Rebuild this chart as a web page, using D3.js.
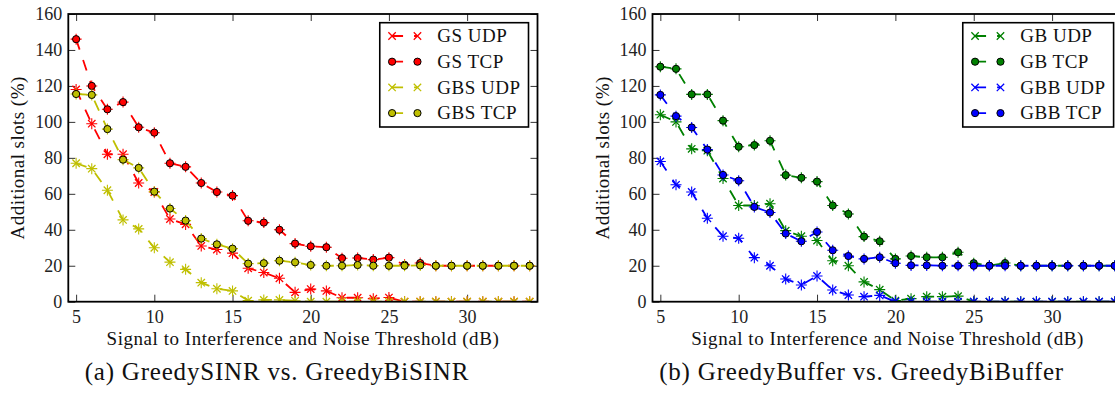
<!DOCTYPE html>
<html>
<head>
<meta charset="utf-8">
<script src="https://cdn.jsdelivr.net/npm/d3@7"></script>
<style>
  body { margin: 0; background: #fff; }
  svg text { font-family: "Liberation Serif", "Times New Roman", serif; }
</style>
</head>
<body>
<svg id="fig" width="1115" height="401"></svg>
<script>
// SINR thresholds (dB) on the x axis
const thresholds = [5, 6, 7, 8, 9, 10, 11, 12, 13, 14, 15, 16, 17, 18, 19,
                    20, 21, 22, 23, 24, 25, 26, 27, 28, 29, 30, 31, 32, 33, 34];

// (a) GreedySINR vs. GreedyBiSINR, additional slots (%)
const gsUdp  = [118, 99, 82, 82, 66, 61, 46, 43, 31, 29, 27, 18.6, 16.2, 13, 5.2,
                7, 6, 2.2, 2.2, 1.7, 2.3, 0, 0, 0, 0, 0, 0, 0, 0, 0];
const gsTcp  = [146, 120, 107, 111, 97, 94, 77, 75, 66, 61, 59, 45, 44, 40, 32.3,
                30.8, 30.3, 24.2, 24.3, 23.4, 24.5, 20.5, 21.5, 20, 20, 20, 20, 20, 20, 20];
const gbsUdp = [77, 74, 62, 45.5, 40.5, 30, 22, 18, 10.6, 7.2, 6, 0.6, 1, 1, 0.5,
                0, 0, 0, 0, 0, 0, 0, 0, 0, 0, 0, 0, 0, 0, 0];
const gbsTcp = [115.5, 115, 96, 79, 74.4, 61.2, 51.8, 45.1, 35.1, 31.9, 29.5, 21.2, 21.4, 22.8, 21.9,
                20.4, 20, 20, 20.4, 20, 20, 20, 20.2, 20, 20, 20, 20, 20, 20, 20];

// (b) GreedyBuffer vs. GreedyBiBuffer, additional slots (%)
const gbUdp  = [104, 100, 85, 84, 68.5, 53.5, 53.5, 54.5, 39.5, 36.4, 34, 22.8, 20, 11, 6.7,
                0.6, 1.7, 2.8, 2.8, 3.1, 0, 0, 0, 0, 0, 0, 0, 0, 0, 0];
const gbTcp  = [130.7, 129.5, 115.3, 115.3, 100.7, 86.2, 87.1, 89.5, 70.4, 68.9, 66.8, 53.5, 48.8, 36.2, 33.6,
                23.8, 25.4, 24.7, 24.7, 27.5, 21.4, 20, 21.5, 20, 20, 20, 20, 20, 20, 20];
const gbbUdp = [78, 65, 61, 46.4, 36.4, 35.3, 24.5, 20, 12.6, 9.3, 14.3, 6.5, 3.7, 2.8, 3.5,
                0, 0, 0, 0, 0, 0, 0, 0, 0, 0, 0, 0, 0, 0, 0];
const gbbTcp = [115, 103.2, 96.9, 84.6, 70.5, 67.3, 52.7, 49.6, 37.9, 33.6, 38.8, 28.6, 25.4, 23.8, 24.7,
                21.4, 20.2, 20.2, 20, 20, 20, 20, 20, 20, 20, 20, 20, 20, 20, 20];

const xTickValues = [5, 10, 15, 20, 25, 30];
const yTickValues = [0, 20, 40, 60, 80, 100, 120, 140, 160];

const xLabel = "Signal to Interference and Noise Threshold (dB)";
const yLabel = "Additional slots (%)";

const RED = "#ff0000", OLIVE = "#bfbf00", GREEN = "#008000", BLUE = "#0000ff";
const FONT = '"Liberation Serif", "Times New Roman", serif';

const panels = [
  {
    left: 68.3, right: 537.5,
    caption: "(a) GreedySINR vs. GreedyBiSINR",
    series: [
      { name: "GS UDP",  values: gsUdp,  color: RED,   marker: "x" },
      { name: "GS TCP",  values: gsTcp,  color: RED,   marker: "o" },
      { name: "GBS UDP", values: gbsUdp, color: OLIVE, marker: "x" },
      { name: "GBS TCP", values: gbsTcp, color: OLIVE, marker: "o" }
    ]
  },
  {
    left: 652.5, right: 1122.6,
    caption: "(b) GreedyBuffer vs. GreedyBiBuffer",
    series: [
      { name: "GB UDP",  values: gbUdp,  color: GREEN, marker: "x" },
      { name: "GB TCP",  values: gbTcp,  color: GREEN, marker: "o" },
      { name: "GBB UDP", values: gbbUdp, color: BLUE,  marker: "x" },
      { name: "GBB TCP", values: gbbTcp, color: BLUE,  marker: "o" }
    ]
  }
];

const plotTop = 14, plotBottom = 301.7;
const svg = d3.select("#fig");
svg.append("rect").attr("width", 1115).attr("height", 401).attr("fill", "#fff");

const DASH = "11,11";

function drawMarker(sel, s) {
  if (s.marker === "x") {
    const a = 3.7;
    sel.append("path")
      .attr("d", `M${-a},${-a}L${a},${a}M${-a},${a}L${a},${-a}`)
      .attr("stroke", s.color).attr("stroke-width", 1.3).attr("fill", "none");
  } else {
    sel.append("circle").attr("r", 3.6)
      .attr("fill", s.color).attr("stroke", "#000").attr("stroke-width", 1);
  }
}

panels.forEach((p, pi) => {
  const x = d3.scaleLinear().domain([4.5, 34.5]).range([p.left, p.right]);
  const y = d3.scaleLinear().domain([0, 160]).range([plotBottom, plotTop]);
  const g = svg.append("g").attr("font-family", FONT);

  const clipId = "plot-clip-" + pi;
  g.append("clipPath").attr("id", clipId)
    .append("rect").attr("x", p.left).attr("y", plotTop)
    .attr("width", p.right - p.left).attr("height", plotBottom - plotTop);

  // axes with inward ticks on all four sides
  const tickStyle = a => {
    a.select(".domain").remove();
    a.selectAll(".tick line").attr("stroke", "#333").attr("stroke-width", 1);
  };
  const labelStyle = a => a.attr("font-family", FONT).selectAll("text")
    .attr("font-size", 18).attr("fill", "#222").attr("font-family", FONT);
  g.append("g").attr("transform", `translate(0,${plotBottom})`)
    .call(d3.axisBottom(x).tickValues(xTickValues).tickSizeInner(-7).tickSizeOuter(0).tickPadding(9))
    .call(tickStyle).call(labelStyle);
  g.append("g").attr("transform", `translate(0,${plotTop})`)
    .call(d3.axisTop(x).tickValues(xTickValues).tickSizeInner(-7).tickSizeOuter(0).tickFormat(""))
    .call(tickStyle);
  g.append("g").attr("transform", `translate(${p.left},0)`)
    .call(d3.axisLeft(y).tickValues(yTickValues).tickSizeInner(-7).tickSizeOuter(0).tickPadding(6))
    .call(tickStyle).call(labelStyle);
  g.append("g").attr("transform", `translate(${p.right},0)`)
    .call(d3.axisRight(y).tickValues(yTickValues).tickSizeInner(-7).tickSizeOuter(0).tickFormat(""))
    .call(tickStyle);

  // data series: dashed line, error-bar cross, marker
  const plot = g.append("g").attr("clip-path", `url(#${clipId})`);
  const line = d3.line().x((d, i) => x(thresholds[i])).y(d => y(d));
  p.series.forEach(s => {
    const sg = plot.append("g");
    sg.append("path").attr("d", line(s.values))
      .attr("fill", "none").attr("stroke", s.color)
      .attr("stroke-width", 1.8).attr("stroke-dasharray", DASH);
    const pts = sg.selectAll(null).data(s.values).join("g")
      .attr("transform", (d, i) => `translate(${x(thresholds[i])},${y(d)})`);
    pts.append("path").attr("d", "M0,-5.5V5.5M-5.5,0H5.5")
      .attr("stroke", s.color).attr("stroke-width", 1.1).attr("fill", "none");
    pts.each(function () { drawMarker(d3.select(this), s); });
  });

  // frame
  g.append("rect").attr("x", p.left).attr("y", plotTop)
    .attr("width", p.right - p.left).attr("height", plotBottom - plotTop)
    .attr("fill", "none").attr("stroke", "#000").attr("stroke-width", 1.8);

  // axis titles
  g.append("text").attr("x", (p.left + p.right) / 2).attr("y", 345)
    .attr("text-anchor", "middle").attr("font-size", 19).attr("letter-spacing", 0.55)
    .attr("fill", "#111").text(xLabel);
  g.append("text")
    .attr("transform", `translate(${p.left - 44},${(plotTop + plotBottom) / 2}) rotate(-90)`)
    .attr("text-anchor", "middle").attr("font-size", 19).attr("letter-spacing", 0.45)
    .attr("fill", "#111").text(yLabel);

  // legend
  const lgTop = 22.7, rowH = 25.7;
  const lg = g.append("g");
  const box = lg.append("rect").attr("y", lgTop).attr("height", rowH * 4 + 1.5)
    .attr("fill", "#fff").attr("stroke", "#000").attr("stroke-width", 1.6);
  let maxW = 0;
  const texts = [];
  p.series.forEach((s, i) => {
    const t = lg.append("text").attr("font-size", 19).attr("letter-spacing", 0.5)
      .attr("fill", "#111").attr("y", lgTop + 13.3 + rowH * i + 6.3).text(s.name);
    maxW = Math.max(maxW, t.node().getComputedTextLength());
    texts.push(t);
  });
  const boxW = 57.5 + maxW + 8;
  const boxX = p.right - 9 - boxW;
  box.attr("x", boxX).attr("width", boxW);
  texts.forEach(t => t.attr("x", boxX + 57.5));
  p.series.forEach((s, i) => {
    const cy = lgTop + 13.3 + rowH * i;
    const x1 = boxX + 12.3, x2 = boxX + 37.7;
    lg.append("line").attr("x1", x1).attr("x2", x2).attr("y1", cy).attr("y2", cy)
      .attr("stroke", s.color).attr("stroke-width", 1.8).attr("stroke-dasharray", DASH);
    [x1, x2].forEach(xx => drawMarker(lg.append("g").attr("transform", `translate(${xx},${cy})`), s));
  });

  // caption
  g.append("text").attr("x", (p.left + p.right) / 2 - 26).attr("y", 380)
    .attr("text-anchor", "middle").attr("font-size", 25).attr("letter-spacing", 0.8)
    .attr("fill", "#111").text(p.caption);
});
</script>
</body>
</html>
